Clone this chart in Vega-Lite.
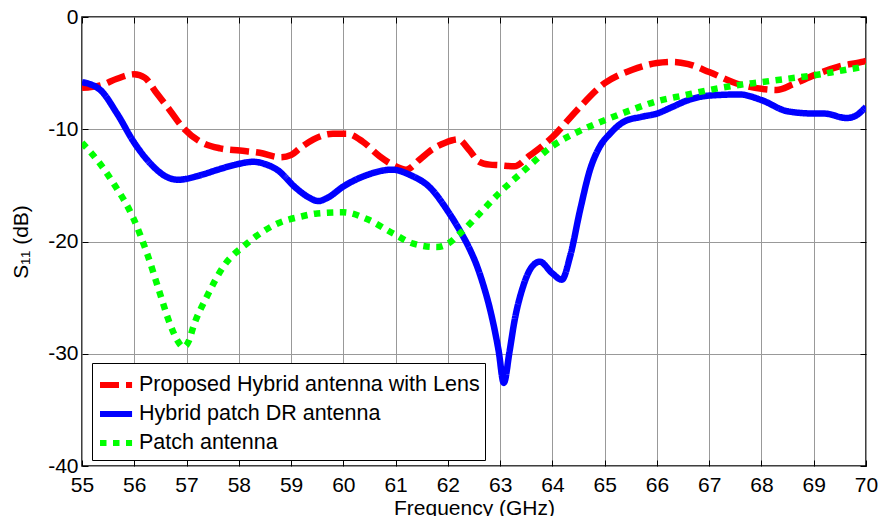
{
  "$schema": "https://vega.github.io/schema/vega-lite/v6.json",
  "width": 784,
  "height": 449,
  "autosize": {"type": "none"},
  "padding": {"left": 82, "top": 17, "right": 13, "bottom": 50},
  "background": "white",
  "config": {
    "font": "Liberation Sans",
    "view": {"stroke": "black", "strokeWidth": 1.5},
    "axis": {"labelColor": "black", "titleColor": "black", "titleFontWeight": "normal", "tickColor": "black", "labelFont": "Liberation Sans", "titleFont": "Liberation Sans"}
  },
  "data": {"values": [
    {"f": 55.0, "s": -6.3, "series": "Proposed Hybrid antenna with Lens"},
    {"f": 55.35, "s": -6.1, "series": "Proposed Hybrid antenna with Lens"},
    {"f": 55.67, "s": -5.5, "series": "Proposed Hybrid antenna with Lens"},
    {"f": 56.0, "s": -5.1, "series": "Proposed Hybrid antenna with Lens"},
    {"f": 56.2, "s": -5.4, "series": "Proposed Hybrid antenna with Lens"},
    {"f": 56.43, "s": -6.8, "series": "Proposed Hybrid antenna with Lens"},
    {"f": 56.68, "s": -8.3, "series": "Proposed Hybrid antenna with Lens"},
    {"f": 56.94, "s": -9.9, "series": "Proposed Hybrid antenna with Lens"},
    {"f": 57.26, "s": -11.1, "series": "Proposed Hybrid antenna with Lens"},
    {"f": 57.64, "s": -11.7, "series": "Proposed Hybrid antenna with Lens"},
    {"f": 58.02, "s": -11.9, "series": "Proposed Hybrid antenna with Lens"},
    {"f": 58.4, "s": -12.1, "series": "Proposed Hybrid antenna with Lens"},
    {"f": 58.8, "s": -12.5, "series": "Proposed Hybrid antenna with Lens"},
    {"f": 59.0, "s": -12.3, "series": "Proposed Hybrid antenna with Lens"},
    {"f": 59.17, "s": -11.7, "series": "Proposed Hybrid antenna with Lens"},
    {"f": 59.43, "s": -10.9, "series": "Proposed Hybrid antenna with Lens"},
    {"f": 59.8, "s": -10.4, "series": "Proposed Hybrid antenna with Lens"},
    {"f": 60.06, "s": -10.4, "series": "Proposed Hybrid antenna with Lens"},
    {"f": 60.37, "s": -11.1, "series": "Proposed Hybrid antenna with Lens"},
    {"f": 60.69, "s": -12.4, "series": "Proposed Hybrid antenna with Lens"},
    {"f": 61.0, "s": -13.3, "series": "Proposed Hybrid antenna with Lens"},
    {"f": 61.2, "s": -13.6, "series": "Proposed Hybrid antenna with Lens"},
    {"f": 61.46, "s": -12.7, "series": "Proposed Hybrid antenna with Lens"},
    {"f": 61.7, "s": -11.8, "series": "Proposed Hybrid antenna with Lens"},
    {"f": 61.95, "s": -11.2, "series": "Proposed Hybrid antenna with Lens"},
    {"f": 62.2, "s": -10.9, "series": "Proposed Hybrid antenna with Lens"},
    {"f": 62.4, "s": -11.8, "series": "Proposed Hybrid antenna with Lens"},
    {"f": 62.6, "s": -12.9, "series": "Proposed Hybrid antenna with Lens"},
    {"f": 62.8, "s": -13.15, "series": "Proposed Hybrid antenna with Lens"},
    {"f": 62.98, "s": -13.2, "series": "Proposed Hybrid antenna with Lens"},
    {"f": 63.27, "s": -13.3, "series": "Proposed Hybrid antenna with Lens"},
    {"f": 63.55, "s": -12.4, "series": "Proposed Hybrid antenna with Lens"},
    {"f": 64.0, "s": -10.7, "series": "Proposed Hybrid antenna with Lens"},
    {"f": 64.47, "s": -8.3, "series": "Proposed Hybrid antenna with Lens"},
    {"f": 65.0, "s": -5.9, "series": "Proposed Hybrid antenna with Lens"},
    {"f": 65.53, "s": -4.7, "series": "Proposed Hybrid antenna with Lens"},
    {"f": 66.0, "s": -4.1, "series": "Proposed Hybrid antenna with Lens"},
    {"f": 66.31, "s": -4.0, "series": "Proposed Hybrid antenna with Lens"},
    {"f": 66.6, "s": -4.2, "series": "Proposed Hybrid antenna with Lens"},
    {"f": 67.0, "s": -4.9, "series": "Proposed Hybrid antenna with Lens"},
    {"f": 67.51, "s": -5.9, "series": "Proposed Hybrid antenna with Lens"},
    {"f": 68.0, "s": -6.4, "series": "Proposed Hybrid antenna with Lens"},
    {"f": 68.29, "s": -6.5, "series": "Proposed Hybrid antenna with Lens"},
    {"f": 68.6, "s": -6.0, "series": "Proposed Hybrid antenna with Lens"},
    {"f": 69.0, "s": -5.2, "series": "Proposed Hybrid antenna with Lens"},
    {"f": 69.49, "s": -4.4, "series": "Proposed Hybrid antenna with Lens"},
    {"f": 69.92, "s": -4.0, "series": "Proposed Hybrid antenna with Lens"},
    {"f": 70.0, "s": -3.9, "series": "Proposed Hybrid antenna with Lens"},

    {"f": 55.0, "s": -5.8, "series": "Hybrid patch DR antenna"},
    {"f": 55.35, "s": -6.5, "series": "Hybrid patch DR antenna"},
    {"f": 55.67, "s": -8.6, "series": "Hybrid patch DR antenna"},
    {"f": 56.0, "s": -11.2, "series": "Hybrid patch DR antenna"},
    {"f": 56.36, "s": -13.3, "series": "Hybrid patch DR antenna"},
    {"f": 56.6, "s": -14.2, "series": "Hybrid patch DR antenna"},
    {"f": 56.84, "s": -14.5, "series": "Hybrid patch DR antenna"},
    {"f": 57.26, "s": -14.1, "series": "Hybrid patch DR antenna"},
    {"f": 57.6, "s": -13.6, "series": "Hybrid patch DR antenna"},
    {"f": 57.9, "s": -13.2, "series": "Hybrid patch DR antenna"},
    {"f": 58.28, "s": -12.9, "series": "Hybrid patch DR antenna"},
    {"f": 58.5, "s": -13.1, "series": "Hybrid patch DR antenna"},
    {"f": 58.73, "s": -13.6, "series": "Hybrid patch DR antenna"},
    {"f": 59.11, "s": -15.3, "series": "Hybrid patch DR antenna"},
    {"f": 59.35, "s": -16.1, "series": "Hybrid patch DR antenna"},
    {"f": 59.52, "s": -16.4, "series": "Hybrid patch DR antenna"},
    {"f": 59.7, "s": -16.1, "series": "Hybrid patch DR antenna"},
    {"f": 60.0, "s": -15.1, "series": "Hybrid patch DR antenna"},
    {"f": 60.44, "s": -14.1, "series": "Hybrid patch DR antenna"},
    {"f": 60.93, "s": -13.6, "series": "Hybrid patch DR antenna"},
    {"f": 61.29, "s": -14.1, "series": "Hybrid patch DR antenna"},
    {"f": 61.66, "s": -15.2, "series": "Hybrid patch DR antenna"},
    {"f": 62.0, "s": -17.3, "series": "Hybrid patch DR antenna"},
    {"f": 62.25, "s": -19.2, "series": "Hybrid patch DR antenna"},
    {"f": 62.42, "s": -20.7, "series": "Hybrid patch DR antenna"},
    {"f": 62.55, "s": -22.1, "series": "Hybrid patch DR antenna"},
    {"f": 62.68, "s": -23.9, "series": "Hybrid patch DR antenna"},
    {"f": 62.81, "s": -26.1, "series": "Hybrid patch DR antenna"},
    {"f": 62.97, "s": -29.7, "series": "Hybrid patch DR antenna"},
    {"f": 63.07, "s": -32.6, "series": "Hybrid patch DR antenna"},
    {"f": 63.18, "s": -29.8, "series": "Hybrid patch DR antenna"},
    {"f": 63.27, "s": -27.2, "series": "Hybrid patch DR antenna"},
    {"f": 63.44, "s": -24.0, "series": "Hybrid patch DR antenna"},
    {"f": 63.6, "s": -22.3, "series": "Hybrid patch DR antenna"},
    {"f": 63.76, "s": -21.8, "series": "Hybrid patch DR antenna"},
    {"f": 63.99, "s": -22.8, "series": "Hybrid patch DR antenna"},
    {"f": 64.18, "s": -23.4, "series": "Hybrid patch DR antenna"},
    {"f": 64.34, "s": -21.3, "series": "Hybrid patch DR antenna"},
    {"f": 64.53, "s": -17.2, "series": "Hybrid patch DR antenna"},
    {"f": 64.72, "s": -13.6, "series": "Hybrid patch DR antenna"},
    {"f": 64.9, "s": -11.6, "series": "Hybrid patch DR antenna"},
    {"f": 65.1, "s": -10.4, "series": "Hybrid patch DR antenna"},
    {"f": 65.38, "s": -9.3, "series": "Hybrid patch DR antenna"},
    {"f": 65.7, "s": -8.9, "series": "Hybrid patch DR antenna"},
    {"f": 66.0, "s": -8.6, "series": "Hybrid patch DR antenna"},
    {"f": 66.3, "s": -8.0, "series": "Hybrid patch DR antenna"},
    {"f": 66.6, "s": -7.4, "series": "Hybrid patch DR antenna"},
    {"f": 67.0, "s": -7.0, "series": "Hybrid patch DR antenna"},
    {"f": 67.58, "s": -6.9, "series": "Hybrid patch DR antenna"},
    {"f": 68.0, "s": -7.4, "series": "Hybrid patch DR antenna"},
    {"f": 68.5, "s": -8.4, "series": "Hybrid patch DR antenna"},
    {"f": 69.0, "s": -8.6, "series": "Hybrid patch DR antenna"},
    {"f": 69.2, "s": -8.6, "series": "Hybrid patch DR antenna"},
    {"f": 69.63, "s": -9.0, "series": "Hybrid patch DR antenna"},
    {"f": 69.8, "s": -8.8, "series": "Hybrid patch DR antenna"},
    {"f": 70.0, "s": -8.0, "series": "Hybrid patch DR antenna"},

    {"f": 55.0, "s": -11.2, "series": "Patch antenna"},
    {"f": 55.3, "s": -12.8, "series": "Patch antenna"},
    {"f": 55.6, "s": -14.8, "series": "Patch antenna"},
    {"f": 55.98, "s": -17.9, "series": "Patch antenna"},
    {"f": 56.24, "s": -21.0, "series": "Patch antenna"},
    {"f": 56.49, "s": -24.6, "series": "Patch antenna"},
    {"f": 56.68, "s": -27.3, "series": "Patch antenna"},
    {"f": 56.85, "s": -29.0, "series": "Patch antenna"},
    {"f": 56.94, "s": -29.4, "series": "Patch antenna"},
    {"f": 57.05, "s": -28.8, "series": "Patch antenna"},
    {"f": 57.13, "s": -27.6, "series": "Patch antenna"},
    {"f": 57.39, "s": -24.9, "series": "Patch antenna"},
    {"f": 57.71, "s": -22.2, "series": "Patch antenna"},
    {"f": 58.15, "s": -20.2, "series": "Patch antenna"},
    {"f": 58.79, "s": -18.3, "series": "Patch antenna"},
    {"f": 59.17, "s": -17.8, "series": "Patch antenna"},
    {"f": 59.5, "s": -17.5, "series": "Patch antenna"},
    {"f": 60.0, "s": -17.4, "series": "Patch antenna"},
    {"f": 60.45, "s": -18.0, "series": "Patch antenna"},
    {"f": 60.96, "s": -19.3, "series": "Patch antenna"},
    {"f": 61.34, "s": -20.2, "series": "Patch antenna"},
    {"f": 61.79, "s": -20.5, "series": "Patch antenna"},
    {"f": 62.0, "s": -20.2, "series": "Patch antenna"},
    {"f": 62.23, "s": -19.3, "series": "Patch antenna"},
    {"f": 62.61, "s": -17.5, "series": "Patch antenna"},
    {"f": 62.98, "s": -15.7, "series": "Patch antenna"},
    {"f": 63.5, "s": -13.5, "series": "Patch antenna"},
    {"f": 64.0, "s": -11.5, "series": "Patch antenna"},
    {"f": 64.5, "s": -10.2, "series": "Patch antenna"},
    {"f": 65.0, "s": -9.2, "series": "Patch antenna"},
    {"f": 65.5, "s": -8.3, "series": "Patch antenna"},
    {"f": 66.0, "s": -7.5, "series": "Patch antenna"},
    {"f": 66.5, "s": -7.0, "series": "Patch antenna"},
    {"f": 67.0, "s": -6.5, "series": "Patch antenna"},
    {"f": 67.5, "s": -6.1, "series": "Patch antenna"},
    {"f": 68.0, "s": -5.8, "series": "Patch antenna"},
    {"f": 68.5, "s": -5.5, "series": "Patch antenna"},
    {"f": 69.0, "s": -5.2, "series": "Patch antenna"},
    {"f": 69.5, "s": -4.8, "series": "Patch antenna"},
    {"f": 70.0, "s": -4.4, "series": "Patch antenna"}
  ]},
  "layer": [
    {
      "mark": {"type": "line", "interpolate": "monotone", "strokeWidth": 6.5, "strokeCap": "butt", "strokeJoin": "round", "clip": true},
      "encoding": {
        "x": {"field": "f", "type": "quantitative", "scale": {"domain": [55, 70], "nice": false, "zero": false},
          "axis": {"values": [55,56,57,58,59,60,61,62,63,64,65,66,67,68,69,70], "labelExpr": "toString(datum.value)", "grid": true, "gridColor": "#999999", "gridWidth": 1, "domain": false, "tickSize": -6, "tickWidth": 1, "labelFontSize": 21, "labelFlush": false, "labelOverlap": false, "labelPadding": 14, "title": "Frequency (GHz)", "titleFontSize": 21, "titlePadding": 2}},
        "y": {"field": "s", "type": "quantitative", "scale": {"domain": [-40, 0], "nice": false, "zero": false},
          "axis": {"values": [-40,-30,-20,-10,0], "labelExpr": "toString(datum.value)", "grid": true, "gridColor": "#999999", "gridWidth": 1, "domain": false, "tickSize": -6, "tickWidth": 1, "labelFontSize": 21, "labelFlush": false, "labelOverlap": false, "labelPadding": 10, "title": "S₁₁ (dB)", "titleFontSize": 21, "titlePadding": 16}},
        "color": {"field": "series", "type": "nominal",
          "scale": {"domain": ["Proposed Hybrid antenna with Lens", "Hybrid patch DR antenna", "Patch antenna"], "range": ["#ff0000", "#0000ff", "#00ff00"]},
          "legend": {"orient": "none", "legendX": 10, "legendY": 346, "title": null, "fillColor": "white", "strokeColor": "black", "padding": 5, "symbolType": "M-1,0H1.29", "symbolSize": 784, "symbolStrokeWidth": 6, "labelFontSize": 21.5, "labelOffset": 8, "labelColor": "black", "labelLimit": 500, "rowPadding": -2}},
        "strokeDash": {"field": "series", "type": "nominal",
          "scale": {"domain": ["Proposed Hybrid antenna with Lens", "Hybrid patch DR antenna", "Patch antenna"], "range": [[19, 7], [1, 0], [6.5, 6.5]]},
          "legend": {"orient": "none", "legendX": 10, "legendY": 346, "title": null, "fillColor": "white", "strokeColor": "black", "padding": 5, "symbolType": "M-1,0H1.29", "symbolSize": 784, "symbolStrokeWidth": 6, "labelFontSize": 21.5, "labelOffset": 8, "labelColor": "black", "labelLimit": 500, "rowPadding": -2}}
      }
    },
    {
      "mark": {"type": "line", "opacity": 0},
      "encoding": {
        "x": {"field": "f", "type": "quantitative", "axis": {"orient": "top", "values": [55,56,57,58,59,60,61,62,63,64,65,66,67,68,69,70], "labels": false, "grid": false, "domain": false, "tickSize": -6, "title": null}},
        "y": {"field": "s", "type": "quantitative", "axis": {"orient": "right", "values": [-40,-30,-20,-10,0], "labels": false, "grid": false, "domain": false, "tickSize": -6, "title": null}},
        "detail": {"field": "series"}
      }
    }
  ],
  "resolve": {"axis": {"x": "independent", "y": "independent"}}
}
